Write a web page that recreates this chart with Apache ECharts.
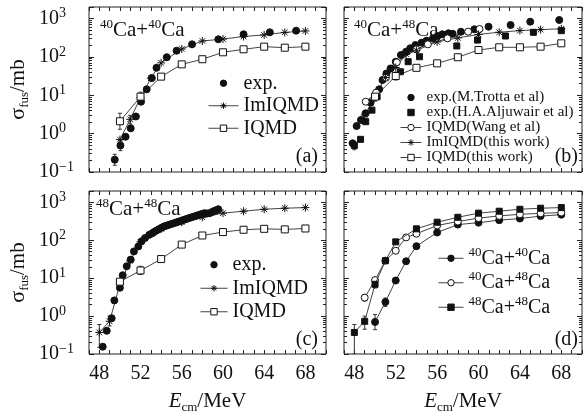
<!DOCTYPE html>
<html><head><meta charset="utf-8">
<script src="https://cdn.jsdelivr.net/npm/echarts@6/dist/echarts.min.js"></script>
<style>html,body{margin:0;padding:0;background:#fff}#c{width:586px;height:415px}</style>
</head><body><div id="c"></div>
<script>
// ---------- data ----------
// Panel (a) 40Ca+40Ca
const eA_exp = [49.5, 50.05, 50.55, 51.05, 51.55, 52.05, 52.6, 53.1, 53.55, 54.55, 55.5, 57.0, 59.55, 62.0, 64.55, 67.1];
const vA_exp = [0.21, 0.49, 0.83, 1.38, 2.8, 6.8, 14.3, 28, 52, 98, 145, 213, 288, 389, 438, 483];
const e4040 = [50, 51, 52, 53, 54, 56, 58, 60, 62, 64, 66, 68];
const v4040 = [0.70, 2.36, 8.7, 28, 70, 161, 260, 292, 340, 375, 435, 475];
const eA_iq = [50, 52, 54, 56, 58, 60, 62, 64, 66, 68];
const vA_iq = [2.1, 9.2, 30.6, 64, 87, 132, 158, 185, 174, 185];
const errA = [[49.5, 0.15, 0.29], [50.05, 0.36, 0.66], [50, 1.3, 3.4], [51, 1.8, 3.0], [52, 7, 12]];
// Panel (b) 40Ca+48Ca
const eB_tr = [47.83, 48.22, 48.64, 49.09, 49.57, 50.4, 50.72, 51.1, 51.5, 52.0, 52.5, 53.0, 53.4, 53.9, 54.5, 54.98, 55.6, 56.05, 56.5, 57.1, 57.5, 58.3, 59.6, 60.97, 63.1, 65.0, 67.8];
const vB_tr = [0.56, 1.58, 2.27, 3.39, 6.4, 14.3, 25, 37, 50, 75, 112, 137, 168, 204, 235, 265, 305, 351, 389, 413, 400, 454, 525, 614, 679, 828, 916];
const eB_al = [48.0, 48.6, 49.1, 49.7, 50.2, 52.45, 53.2, 54.3, 57.9, 59.9, 62.6, 65.3, 68.0];
const vB_al = [0.49, 0.71, 2.05, 4.1, 9.2, 41, 75, 101, 193, 275, 351, 438, 483];
const eB_wang = [49.1, 50.1, 51.05, 52.1, 54.0, 55.1, 57.0, 59.0, 60.1];
const vB_wang = [6.8, 11.7, 28.7, 72, 158, 213, 305, 454, 535];
const e4048 = [49, 50, 51, 52, 53, 54, 56, 58, 60, 62, 64, 66, 68];
const v4048 = [3.07, 8.9, 29, 53, 119, 149, 246, 313, 385, 440, 485, 515, 540];
const eB_iq = [50, 52, 54, 56, 58, 60, 62, 64, 66, 68];
const vB_iq = [9.2, 31.8, 52, 68, 98, 151, 178, 178, 185, 226];
const errB = [[48.0, 0.38, 0.62], [50, 7, 12], [52, 25, 40], [49, 2.5, 3.7]];
// Panel (c) 48Ca+48Ca
const eC_exp = [48.33, 48.72, 49.2, 49.46, 50.0, 50.27, 50.66, 51.05, 51.36, 51.79, 52.1, 52.44, 52.85, 53.1, 53.3, 53.55, 53.8, 54.05, 54.28, 54.5, 54.77, 55.0, 55.25, 55.5, 55.74, 56.0, 56.22, 56.45, 56.7, 56.95, 57.2, 57.45, 57.7, 57.95, 58.2, 58.45, 58.7, 58.95, 59.17, 59.4, 59.55];
const vC_exp = [0.156, 0.41, 0.88, 2.6, 5.6, 12, 20.7, 31, 51, 69, 94, 115, 140, 152, 165, 181, 198, 215, 232, 244, 257, 270, 284, 298, 313, 330, 347, 365, 385, 405, 424, 447, 470, 495, 520, 510, 520, 560, 597, 630, 661];
const e4848 = [48, 49, 50, 51, 52, 54, 56, 58, 60, 62, 64, 66, 68];
const v4848 = [0.37, 0.73, 6.9, 29, 91, 201, 300, 405, 520, 585, 660, 703, 730];
const eC_iq = [50, 52, 54, 56, 58, 60, 62, 64, 66, 68];
const vC_iq = [8.1, 16, 32, 77, 134, 165, 190, 201, 194, 205];
const errC = [[48, 0.15, 0.6], [49, 0.55, 1.0], [52, 12.5, 20.6], [54, 26, 38]];
// Panel (d) comparison
const errD = [[50, 0.44, 1.1], [51, 1.8, 3.0], [48, 0.1, 0.6], [49, 0.45, 1.0], [50, 5.5, 8.5], [49, 2.5, 3.7]];
// axis ticks
const xLabels = [48, 52, 56, 60, 64, 68];
const xTicks = [];
for (let v = 47; v <= 70; v++) xTicks.push(v);
const yMinor = [];
[0.1, 1, 10, 100].forEach(d => { for (let k = 2; k <= 9; k++) yMinor.push(+(d * k).toPrecision(3)); });

// ---------- chart ----------
const F = '"Liberation Serif","Times New Roman",serif';
const C = '#111';
const zip = (xs, ys) => xs.map((x, i) => [x, ys[i]]);
const asterisk = 'path://M0,5L10,5M5,0L5,10M1.5,1.5L8.5,8.5M1.5,8.5L8.5,1.5';

const grids = [
  { left: 89, top: 7, width: 237, height: 165 },
  { left: 344, top: 7, width: 238, height: 165 },
  { left: 89, top: 191, width: 237, height: 164 },
  { left: 344, top: 191, width: 238, height: 164 }
].map(g => Object.assign(g, { show: true, borderColor: '#222', borderWidth: 1, backgroundColor: 'transparent' }));

const xAxis = [], yAxis = [];
grids.forEach((g, i) => {
  const bottom = i >= 2;
  ['bottom', 'top'].forEach(pos => {
    xAxis.push({
      type: 'value', gridIndex: i, position: pos, min: 47, max: 70,
      axisLine: { show: false }, splitLine: { show: false },
      axisTick: { inside: true, length: 4, customValues: xTicks, lineStyle: { color: '#222' } },
      axisLabel: { show: bottom && pos === 'bottom', customValues: xLabels, fontSize: 20, fontFamily: F, color: C, margin: 10 },
      name: (bottom && pos === 'bottom') ? '{i|E}{sub|cm}{t|/MeV}' : '',
      nameLocation: 'middle', nameGap: 34,
      nameTextStyle: {
        fontFamily: F, color: C,
        rich: {
          i: { fontFamily: F, fontSize: 21, fontStyle: 'italic', color: C, lineHeight: 26 },
          sub: { fontFamily: F, fontSize: 13, color: C, verticalAlign: 'bottom', lineHeight: 16 },
          t: { fontFamily: F, fontSize: 21, color: C, lineHeight: 26 }
        }
      }
    });
  });
  const ylab = v => {
    const l = Math.log10(v), e = Math.round(l);
    if (Math.abs(l - e) > 1e-6) return '';
    return '{b|10}{s|' + (e < 0 ? '\u2212' + (-e) : e) + '}';
  };
  [['left', false], ['right', false], ['left', true], ['right', true]].forEach(([pos, minor]) => {
    const lab = !minor && pos === 'left' && (i % 2 === 0);
    yAxis.push({
      type: 'log', gridIndex: i, position: pos, min: 0.1, max: 2000, logBase: 10,
      axisLine: { show: false }, splitLine: { show: false }, minorTick: { show: false },
      axisTick: minor ? { inside: true, length: 3, customValues: yMinor, lineStyle: { color: '#222' } }
                      : { inside: true, length: 5, lineStyle: { color: '#222' } },
      axisLabel: {
        show: lab, formatter: ylab, align: 'left', margin: 50,
        rich: {
          b: { fontFamily: F, fontSize: 20, color: C, lineHeight: 24 },
          s: { fontFamily: F, fontSize: 14, color: C, verticalAlign: 'top', lineHeight: 14 }
        }
      },
      name: lab ? '{g|\u03c3}{sub|fus}{t|/mb}' : '',
      nameLocation: 'middle', nameGap: 58,
      nameTextStyle: {
        fontFamily: F, color: C,
        rich: {
          g: { fontFamily: F, fontSize: 22, color: C, lineHeight: 26 },
          sub: { fontFamily: F, fontSize: 13, color: C, verticalAlign: 'bottom', lineHeight: 16 },
          t: { fontFamily: F, fontSize: 21, color: C, lineHeight: 26 }
        }
      }
    });
  });
});

const ST = {
  dot: { symbol: 'circle', symbolSize: 7, itemStyle: { color: C, borderColor: C, borderWidth: 1 } },
  ocirc: { symbol: 'circle', symbolSize: 7, itemStyle: { color: '#fff', borderColor: C, borderWidth: 1 } },
  osq: { symbol: 'rect', symbolSize: 7, itemStyle: { color: '#fff', borderColor: C, borderWidth: 1 } },
  fsq: { symbol: 'rect', symbolSize: 6, itemStyle: { color: C, borderColor: C, borderWidth: 1 } },
  star: { symbol: asterisk, symbolSize: 8, itemStyle: { color: 'transparent', borderColor: C, borderWidth: 1 } }
};
function mk(name, g, data, st, line, z) {
  return Object.assign({
    type: 'line', name, xAxisIndex: g * 2, yAxisIndex: g * 4, data, z: z || 3, silent: true,
    emphasis: { disabled: true },
    lineStyle: line ? { color: '#444', width: 1 } : { width: 0, opacity: 0 }
  }, st);
}
function errS(g, data) {
  return {
    type: 'custom', xAxisIndex: g * 2, yAxisIndex: g * 4, data, z: 2, silent: true, clip: true,
    encode: { x: 0, y: [1, 2] },
    renderItem: (p, api) => {
      const x = api.value(0), lo = api.value(1), hi = api.value(2);
      const a = api.coord([x, lo]), b = api.coord([x, hi]);
      const st = { stroke: '#333', lineWidth: 1 };
      return { type: 'group', children: [
        { type: 'line', shape: { x1: a[0], y1: a[1], x2: b[0], y2: b[1] }, style: st },
        { type: 'line', shape: { x1: a[0] - 2, y1: a[1], x2: a[0] + 2, y2: a[1] }, style: st },
        { type: 'line', shape: { x1: b[0] - 2, y1: b[1], x2: b[0] + 2, y2: b[1] }, style: st }
      ] };
    }
  };
}

const series = [
  errS(0, errA),
  mk('exp.', 0, zip(eA_exp, vA_exp), ST.dot, false),
  mk('ImIQMD', 0, zip(e4040, v4040), ST.star, true),
  mk('IQMD', 0, zip(eA_iq, vA_iq), ST.osq, true),

  errS(1, errB),
  mk('exp.(M.Trotta et al)', 1, zip(eB_tr, vB_tr), ST.dot, false),
  mk('exp.(H.A.Aljuwair et al)', 1, zip(eB_al, vB_al), ST.fsq, false),
  mk('IQMD(Wang et al)', 1, zip(eB_wang, vB_wang), ST.ocirc, true),
  mk('ImIQMD(this work)', 1, zip(e4048, v4048), ST.star, true),
  mk('IQMD(this work)', 1, zip(eB_iq, vB_iq), ST.osq, true),

  errS(2, errC),
  mk('exp.', 2, zip(eC_exp, vC_exp), ST.dot, false),
  mk('ImIQMD', 2, zip(e4848, v4848), ST.star, true),
  mk('IQMD', 2, zip(eC_iq, vC_iq), ST.osq, true),

  errS(3, errD),
  mk('40Ca+40Ca', 3, zip(e4040, v4040), ST.dot, true),
  mk('40Ca+48Ca', 3, zip(e4048, v4048), ST.ocirc, true),
  mk('48Ca+48Ca', 3, zip(e4848, v4848), ST.fsq, true, 4)
];

const noLine = ['exp.', 'exp.(M.Trotta et al)', 'exp.(H.A.Aljuwair et al)'];
const supFmt = n => n.replace(/(\d+)Ca/g, '{s|$1}{t|Ca}');
function lg(names, left, top, fs, lh, iw, rich) {
  const o = {
    orient: 'vertical', left, top, padding: 0, itemGap: 0, itemWidth: iw, itemHeight: 8,
    selectedMode: false,
    lineStyle: { width: 1, color: '#444' },
    itemStyle: { borderWidth: 1 },
    textStyle: { fontFamily: F, fontSize: fs, color: C, lineHeight: lh },
    data: names.map(n => noLine.includes(n) ? { name: n, lineStyle: { width: 0, opacity: 0 } } : { name: n })
  };
  if (rich) {
    o.formatter = supFmt;
    o.textStyle.rich = {
      s: { fontFamily: F, fontSize: 13, color: C, verticalAlign: 'top', lineHeight: 13 },
      t: { fontFamily: F, fontSize: fs, color: C, lineHeight: lh }
    };
  }
  return o;
}
const legend = [
  lg(['exp.', 'ImIQMD', 'IQMD'], 208, 72, 20, 22.5, 30),
  lg(['exp.(M.Trotta et al)', 'exp.(H.A.Aljuwair et al)', 'IQMD(Wang et al)', 'ImIQMD(this work)', 'IQMD(this work)'], 400, 90, 15, 14.5, 21),
  lg(['exp.', 'ImIQMD', 'IQMD'], 200, 253, 20, 23.5, 27),
  lg(['40Ca+40Ca', '40Ca+48Ca', '48Ca+48Ca'], 438, 246, 20, 24.5, 25, true)
];

const titleRich = {
  s: { fontFamily: F, fontSize: 13, fill: C, verticalAlign: 'top', lineHeight: 13 },
  t: { fontFamily: F, fontSize: 21, fill: C, lineHeight: 24 }
};
const tText = (txt, x, y) => ({ type: 'text', x, y, silent: true,
  style: { text: supFmt(txt), rich: titleRich, fontFamily: F, fontSize: 21, fill: C, verticalAlign: 'middle', align: 'left' } });
const pLab = (txt, x, y) => ({ type: 'text', x, y, silent: true,
  style: { text: txt, fontFamily: F, fontSize: 20, fill: C, verticalAlign: 'middle', align: 'right' } });

const chart = echarts.init(document.getElementById('c'), null, { renderer: 'canvas' });
chart.setOption({
  animation: false,
  backgroundColor: '#fff',
  grid: grids, xAxis, yAxis, series, legend,
  graphic: [
    tText('40Ca+40Ca', 100, 30), tText('40Ca+48Ca', 354, 30), tText('48Ca+48Ca', 96, 209),
    pLab('(a)', 318, 157), pLab('(b)', 578, 157), pLab('(c)', 318, 340), pLab('(d)', 578, 340)
  ]
});
</script></body></html>
